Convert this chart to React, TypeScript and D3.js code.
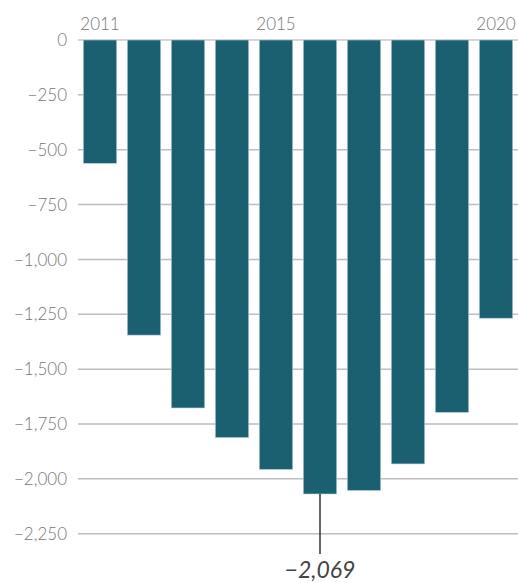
import React from "react";
import * as d3 from "d3";

const years = ["2011", "2012", "2013", "2014", "2015", "2016", "2017", "2018", "2019", "2020"];
const values = [-562, -1345, -1677, -1812, -1957, -2069, -2053, -1932, -1697, -1268];
const yTicks = [0, -250, -500, -750, -1000, -1250, -1500, -1750, -2000, -2250];
const labeledYears = ["2011", "2015", "2020"];
const annotatedYear = "2016";
const annotationText = "\u22122,069";

const W = 518;
const H = 583;

export default function App() {
  const x = d3.scaleBand<string>().domain(years).range([78, 518]).paddingInner(0.24).paddingOuter(0.12);
  const y = d3.scaleLinear().domain([0, -2250]).range([40, 533.7]);
  const fmt = (v: number) => (v === 0 ? "0" : "\u2212" + d3.format(",")(Math.abs(v)));
  const font = "Lato, 'Open Sans', sans-serif";
  const annIdx = years.indexOf(annotatedYear);
  const annX = (x(annotatedYear) as number) + x.bandwidth() / 2;

  return (
    <svg width={W} height={H} style={{ position: "absolute", left: 0, top: 0 }}>
      <g>
        {yTicks.map((t) => (
          <g key={t}>
            <line x1={78} x2={518} y1={y(t)} y2={y(t)} stroke={t === 0 ? "#c8c8cc" : "#bdbdc2"} strokeWidth={1.5} />
            <text x={67} y={y(t)} dy="0.36em" textAnchor="end" fontFamily={font} fontWeight={300} fontSize={17} fill="#767676">
              {fmt(t)}
            </text>
          </g>
        ))}
      </g>
      <g>
        {years.map((yr, i) => (
          <rect
            key={yr}
            x={x(yr)}
            y={y(0)}
            width={x.bandwidth()}
            height={y(values[i]) - y(0)}
            fill="#1a6070"
            stroke="#b9d0d6"
            strokeWidth={0.6}
          />
        ))}
      </g>
      <g>
        {labeledYears.map((yr) => (
          <text key={yr} x={(x(yr) as number) + x.bandwidth() / 2} y={30} textAnchor="middle" fontFamily={font} fontWeight={300} fontSize={17} fill="#767676">
            {yr}
          </text>
        ))}
      </g>
      <g>
        <line x1={annX} x2={annX} y1={y(values[annIdx])} y2={554} stroke="#333" strokeWidth={1.5} />
        <text x={annX} y={578} textAnchor="middle" fontFamily={font} fontStyle="italic" fontWeight={400} fontSize={23} fill="#444">
          {annotationText}
        </text>
      </g>
    </svg>
  );
}
